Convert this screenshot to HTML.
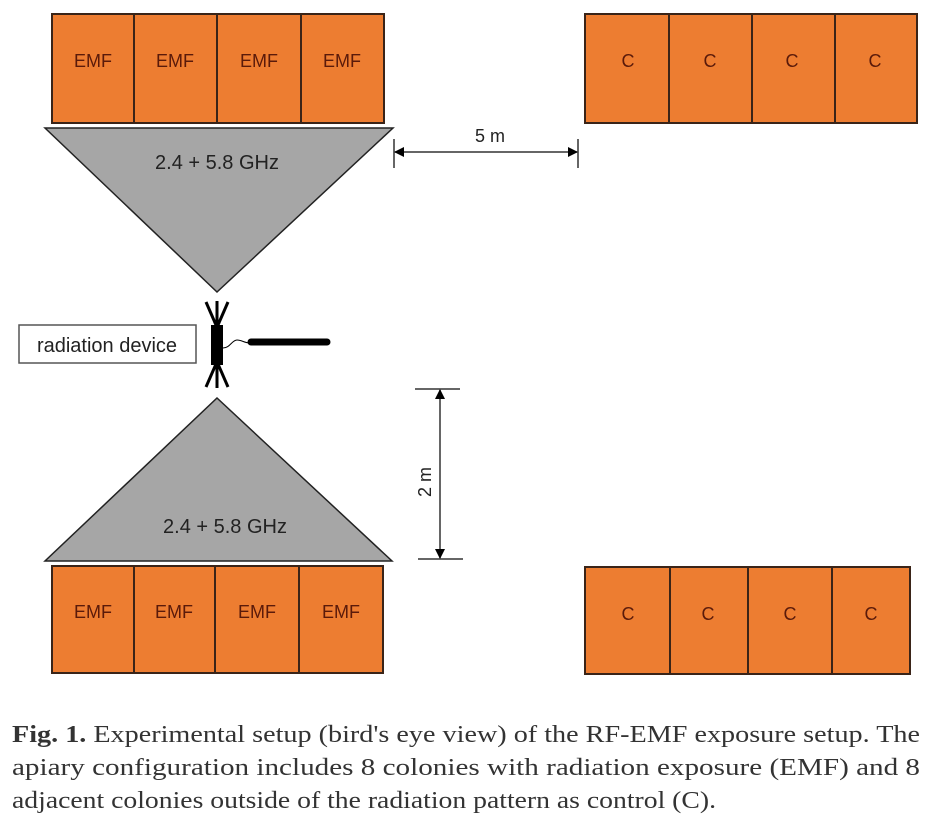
<!DOCTYPE html>
<html><head><meta charset="utf-8"><style>
html,body{margin:0;padding:0;background:#fff;}
svg{display:block;}
</style></head><body>
<svg width="942" height="839" viewBox="0 0 942 839" xmlns="http://www.w3.org/2000/svg">
<defs>
<marker id="ar" markerWidth="10" markerHeight="10" refX="9" refY="5" orient="auto-start-reverse" markerUnits="userSpaceOnUse" viewBox="0 0 10 10">
<path d="M0,0 L10,5 L0,10 z" fill="#000"/></marker>
</defs>
<g stroke="#3a2418" stroke-width="2" fill="#ed7d31">
<rect x="52" y="14" width="332" height="109"/>
<line x1="134" y1="14" x2="134" y2="123"/><line x1="217" y1="14" x2="217" y2="123"/><line x1="301" y1="14" x2="301" y2="123"/>
<rect x="585" y="14" width="332" height="109"/>
<line x1="669" y1="14" x2="669" y2="123"/><line x1="752" y1="14" x2="752" y2="123"/><line x1="835" y1="14" x2="835" y2="123"/>
<rect x="52" y="566" width="331" height="107"/>
<line x1="134" y1="566" x2="134" y2="673"/><line x1="215" y1="566" x2="215" y2="673"/><line x1="299" y1="566" x2="299" y2="673"/>
<rect x="585" y="567" width="325" height="107"/>
<line x1="670" y1="567" x2="670" y2="674"/><line x1="748" y1="567" x2="748" y2="674"/><line x1="832" y1="567" x2="832" y2="674"/>
</g>
<g font-family="Liberation Sans, sans-serif" font-size="18" fill="#5a1a0a" text-anchor="middle">
<text x="93" y="67">EMF</text><text x="175" y="67">EMF</text><text x="259" y="67">EMF</text><text x="342" y="67">EMF</text>
<text x="628" y="67">C</text><text x="710" y="67">C</text><text x="792" y="67">C</text><text x="875" y="67">C</text>
<text x="93" y="618">EMF</text><text x="174" y="618">EMF</text><text x="257" y="618">EMF</text><text x="341" y="618">EMF</text>
<text x="628" y="620">C</text><text x="708" y="620">C</text><text x="790" y="620">C</text><text x="871" y="620">C</text>
</g>
<polygon points="45,128 393,128 217,292" fill="#a6a6a6" stroke="#222" stroke-width="1.5"/>
<polygon points="45,561 392,561 217,398" fill="#a6a6a6" stroke="#222" stroke-width="1.5"/>
<g font-family="Liberation Sans, sans-serif" font-size="20" fill="#222" text-anchor="middle">
<text x="217" y="169">2.4 + 5.8 GHz</text>
<text x="225" y="533">2.4 + 5.8 GHz</text>
</g>
<g stroke="#000" stroke-width="3">
<line x1="217" y1="301" x2="217" y2="388"/>
<line x1="206" y1="302" x2="216" y2="325"/><line x1="228" y1="302" x2="218" y2="325"/>
<line x1="206" y1="387" x2="216" y2="364"/><line x1="228" y1="387" x2="218" y2="364"/>
</g>
<rect x="211" y="325" width="12" height="40" fill="#000"/>
<path d="M223,348 C230,348 232,340 237,340 C242,340 244,343 250,343" fill="none" stroke="#000" stroke-width="1"/>
<line x1="251" y1="342" x2="327" y2="342" stroke="#000" stroke-width="7" stroke-linecap="round"/>
<rect x="19" y="325" width="177" height="38" fill="#fff" stroke="#555" stroke-width="1.5"/>
<text x="107" y="352" font-family="Liberation Sans, sans-serif" font-size="20" fill="#222" text-anchor="middle">radiation device</text>
<g stroke="#333" stroke-width="1.5">
<line x1="394" y1="139" x2="394" y2="168"/><line x1="578" y1="139" x2="578" y2="168"/>
<line x1="395" y1="152" x2="577" y2="152" marker-start="url(#ar)" marker-end="url(#ar)"/>
</g>
<text x="490" y="142" font-family="Liberation Sans, sans-serif" font-size="18" fill="#222" text-anchor="middle">5 m</text>
<g stroke="#333" stroke-width="1.5">
<line x1="415" y1="389" x2="460" y2="389"/><line x1="418" y1="559" x2="463" y2="559"/>
<line x1="440" y1="390" x2="440" y2="558" marker-start="url(#ar)" marker-end="url(#ar)"/>
</g>
<text transform="translate(431,482) rotate(-90)" font-family="Liberation Sans, sans-serif" font-size="18" fill="#222" text-anchor="middle">2 m</text>
<g font-family="Liberation Serif, serif" font-size="24" fill="#333">
<text x="12" y="742" textLength="908" lengthAdjust="spacingAndGlyphs"><tspan font-weight="bold">Fig. 1.</tspan> Experimental setup (bird's eye view) of the RF-EMF exposure setup. The</text>
<text x="12" y="775" textLength="908" lengthAdjust="spacingAndGlyphs">apiary configuration includes 8 colonies with radiation exposure (EMF) and 8</text>
<text x="12" y="808" textLength="704" lengthAdjust="spacingAndGlyphs">adjacent colonies outside of the radiation pattern as control (C).</text>
</g>
</svg>
</body></html>
